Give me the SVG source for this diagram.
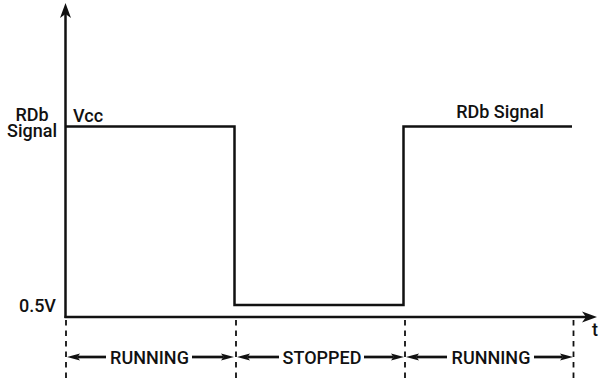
<svg xmlns="http://www.w3.org/2000/svg" width="600" height="380" viewBox="0 0 600 380">
  <defs>
    <style>
      .txt { font-family: Roboto, "Liberation Sans", Arial, sans-serif; font-weight: 500; font-size: 18px; fill: #111; }
      .mid { text-anchor: middle; }
      .axis { stroke: #111; stroke-width: 2.5; fill: none; }
      .sig { stroke: #111; stroke-width: 2.5; fill: none; stroke-linejoin: miter; }
      .dash { stroke: #111; stroke-width: 1.8; stroke-dasharray: 5.5 5; fill: none; }
      .span { stroke: #111; stroke-width: 2.7; fill: none; marker-end: url(#small); }
    </style>
    <marker id="big" markerUnits="userSpaceOnUse" markerWidth="16" markerHeight="12" refX="4" refY="5.5" orient="auto" overflow="visible">
      <path d="M0,0 L15,5.5 L0,11 L4,5.5 Z" fill="#111"/>
    </marker>
    <marker id="small" markerUnits="userSpaceOnUse" markerWidth="14" markerHeight="8" refX="2.5" refY="3.5" orient="auto" overflow="visible">
      <path d="M0,0 L13,3.5 L0,7 L2.5,3.5 Z" fill="#111"/>
    </marker>
  </defs>

  <g id="axes">
    <line class="axis" x1="65.5" y1="318" x2="65.5" y2="14" marker-end="url(#big)"/>
    <line class="axis" x1="64.5" y1="317" x2="586" y2="317" marker-end="url(#big)"/>
  </g>

  <g id="signal">
    <polyline class="sig" points="66,126.5 234.5,126.5 234.5,305 403.5,305 403.5,126.5 572,126.5"/>
  </g>

  <g id="labels">
    <text class="txt mid" x="32" y="120.5">RDb</text>
    <text class="txt mid" x="32" y="137">Signal</text>
    <text class="txt" x="73" y="122">Vcc</text>
    <text class="txt" x="500" y="118" text-anchor="middle">RDb Signal</text>
    <text class="txt" x="56" y="312" text-anchor="end">0.5V</text>
    <text class="txt" x="592" y="336">t</text>
  </g>

  <g id="phase-markers">
    <line class="dash" x1="66" y1="320" x2="66" y2="380"/>
    <line class="dash" x1="236" y1="320" x2="236" y2="380"/>
    <line class="dash" x1="405" y1="320" x2="405" y2="380"/>
    <line class="dash" x1="573.5" y1="320" x2="573.5" y2="380"/>
  </g>

  <g id="connectors">
    <line class="span" x1="106" y1="357" x2="77.5" y2="357"/>
    <line class="span" x1="192" y1="357" x2="223.5" y2="357"/>
    <line class="span" x1="279" y1="357" x2="247.5" y2="357"/>
    <line class="span" x1="364" y1="357" x2="393.5" y2="357"/>
    <line class="span" x1="447" y1="357" x2="416.5" y2="357"/>
    <line class="span" x1="534" y1="357" x2="562.5" y2="357"/>
  </g>

  <g id="phase-running-1">
    <text class="txt mid" x="149.5" y="363.5">RUNNING</text>
  </g>
  <g id="phase-stopped">
    <text class="txt mid" x="322" y="363.5">STOPPED</text>
  </g>
  <g id="phase-running-2">
    <text class="txt mid" x="491" y="363.5">RUNNING</text>
  </g>
</svg>
